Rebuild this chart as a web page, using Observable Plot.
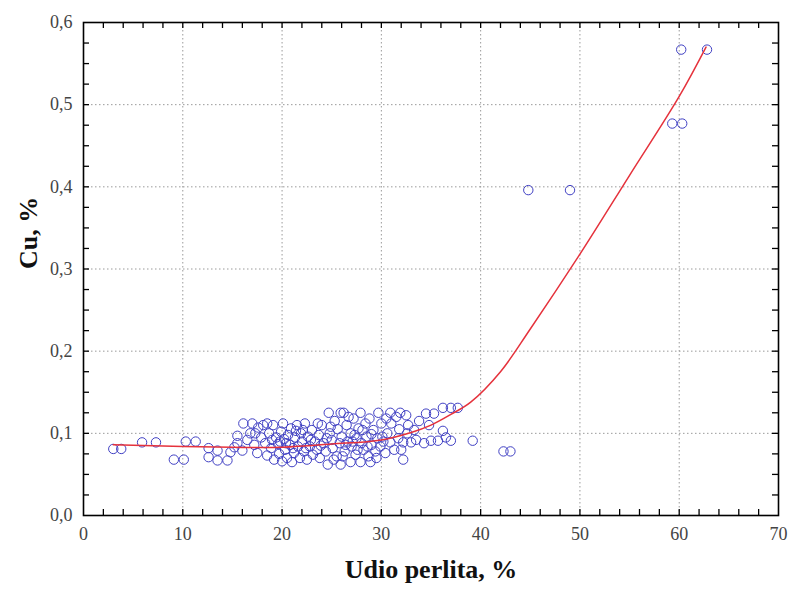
<!DOCTYPE html>
<html><head><meta charset="utf-8">
<script src="https://cdn.jsdelivr.net/npm/d3@7"></script>
<script src="https://cdn.jsdelivr.net/npm/@observablehq/plot@0.6"></script>
<style>body{margin:0;background:#fff} svg, svg text{font-family:"Liberation Serif","DejaVu Serif",serif !important}</style>
</head><body><div id="chart"></div>
<script>
// Udio perlita, % (x) and Cu, % (y) of each sample
const pearliteX = [3.0,3.8,5.9,7.3,9.1,10.1,10.3,11.3,12.6,12.6,13.5,13.5,14.5,14.8,15.5,15.5,16.1,17.0,17.6,15.2,
  16.0,16.5,16.8,17.2,17.5,17.9,18.1,18.3,18.5,18.7,18.9,19.1,19.2,19.4,19.6,19.7,19.9,20.0,20.1,20.2,
  20.3,20.5,20.6,20.8,20.9,21.0,21.2,21.3,21.5,21.6,21.8,21.9,22.0,22.2,22.3,22.5,22.6,22.8,23.0,23.1,
  23.3,23.5,23.7,23.8,24.0,24.2,24.4,24.7,24.6,24.8,25.0,25.1,25.3,25.5,25.6,25.8,25.9,25.9,26.0,26.2,
  26.3,26.5,26.6,26.9,26.9,27.0,27.2,27.4,27.5,27.7,27.9,27.9,28.0,28.2,28.4,28.5,28.7,28.9,29.0,29.2,
  29.4,29.6,29.7,29.9,30.0,30.2,30.4,30.6,30.9,31.0,30.9,31.5,31.7,31.9,32.0,32.2,32.2,32.5,32.7,33.0,
  33.3,33.8,34.3,34.5,35.0,35.3,35.7,36.2,36.2,37.0,37.0,37.7,39.2,42.3,43.0,44.8,49.0,59.3,60.3,60.2,62.8,
  19.0,20.4,21.1,22.1,22.9,23.9,24.5,25.2,26.4,27.3,28.1,28.8,29.5,30.5,31.3,23.6,24.9,26.7,27.6,29.0,
  33.5,36.5,34.8,31.8,17.3,18.5,19.8,21.4,22.4,26.1,27.1,28.6,30.1,32.6];
const copperY = [0.081,0.081,0.089,0.089,0.068,0.068,0.090,0.090,0.082,0.071,0.079,0.067,0.067,0.077,0.097,0.088,0.112,0.112,0.107,0.083,
  0.079,0.092,0.100,0.086,0.076,0.095,0.110,0.088,0.073,0.100,0.082,0.110,0.068,0.095,0.087,0.075,0.102,0.066,0.112,0.093,
  0.080,0.070,0.098,0.086,0.106,0.065,0.076,0.095,0.110,0.084,0.070,0.100,0.090,0.078,0.112,0.068,0.096,0.084,0.104,0.074,
  0.090,0.080,0.098,0.070,0.110,0.088,0.078,0.125,0.062,0.100,0.092,0.082,0.115,0.072,0.105,0.088,0.125,0.062,0.096,0.125,
  0.078,0.110,0.090,0.065,0.100,0.084,0.118,0.074,0.094,0.106,0.125,0.065,0.088,0.080,0.112,0.096,0.072,0.065,0.086,0.104,
  0.078,0.094,0.125,0.084,0.112,0.090,0.076,0.100,0.125,0.112,0.089,0.120,0.094,0.125,0.080,0.068,0.089,0.122,0.110,0.089,
  0.104,0.115,0.088,0.124,0.091,0.124,0.091,0.103,0.131,0.091,0.131,0.131,0.091,0.078,0.078,0.396,0.396,0.477,0.477,0.567,0.567,
  0.092,0.088,0.082,0.104,0.092,0.085,0.094,0.068,0.086,0.098,0.104,0.118,0.070,0.118,0.080,0.112,0.108,0.120,0.080,0.099,
  0.092,0.095,0.110,0.105,0.100,0.112,0.090,0.103,0.082,0.072,0.090,0.084,0.096,0.100];
// fitted curve
const fitX = [3,10,15,20,25,30,33,35,37,39,42,45,50,55,60,62.7];
const fitY = [0.086,0.084,0.083,0.083,0.087,0.092,0.101,0.110,0.123,0.138,0.175,0.227,0.318,0.414,0.51,0.57];
// axes
const xTicks = [0,10,20,30,40,50,60,70];
const yTicks = [0,0.1,0.2,0.3,0.4,0.5,0.6];
const xMinor = [2,4,6,8,10,12,14,16,18,20,22,24,26,28,30,32,34,36,38,40,42,44,46,48,50,52,54,56,58,60,62,64,66,68];
const yMinor = [0.025,0.05,0.075,0.1,0.125,0.15,0.175,0.2,0.225,0.25,0.275,0.3,0.325,0.35,0.375,0.4,0.425,0.45,0.475,0.5,0.525,0.55,0.575];

const points = pearliteX.map((x, i) => ({x, y: copperY[i]}));
const fit = fitX.map((x, i) => ({x, y: fitY[i]}));

const W = 790, H = 590, mL = 83, mR = 12, mT = 22, mB = 75;
const iw = W - mL - mR, ih = H - mT - mB;
const fmtY = d => d.toFixed(1).replace(".", ",");
const serif = "Liberation Serif";

const chart = Plot.plot({
  width: W, height: H,
  marginLeft: mL, marginRight: mR, marginTop: mT, marginBottom: mB,
  style: {fontFamily: serif, background: "#fff"},
  x: {domain: [0, 70]},
  y: {domain: [0, 0.6]},
  marks: [
    Plot.gridX(xTicks.slice(1, -1), {stroke: "#9a9a9a", strokeOpacity: 1, strokeDasharray: "1.5,2.5"}),
    Plot.gridY(yTicks.slice(1, -1), {stroke: "#9a9a9a", strokeOpacity: 1, strokeDasharray: "1.5,2.5"}),
    Plot.tickX(xMinor, {x: d => d, insetTop: ih - 6, stroke: "#000", strokeWidth: 1.3}),
    Plot.tickX(xMinor, {x: d => d, insetBottom: ih - 6, stroke: "#000", strokeWidth: 1.3}),
    Plot.tickY(yMinor, {y: d => d, insetRight: iw - 6, stroke: "#000", strokeWidth: 1.3}),
    Plot.tickY(yMinor, {y: d => d, insetLeft: iw - 6, stroke: "#000", strokeWidth: 1.3}),
    Plot.dot(points, {x: "x", y: "y", r: 4.7, stroke: "#4141c4", strokeWidth: 1, fill: "none"}),
    Plot.line(fit, {x: "x", y: "y", curve: "catmull-rom", stroke: "#e5323c", strokeWidth: 1.5}),
    Plot.frame({stroke: "#000", strokeWidth: 1.6}),
    Plot.axisX(xTicks, {tickSize: 0, tickPadding: 12, fontSize: 18, fontFamily: serif, fill: "#444", label: null}),
    Plot.axisY(yTicks, {tickSize: 0, tickPadding: 11, fontSize: 18, fontFamily: serif, fill: "#444", tickFormat: fmtY, label: null}),
    Plot.text(["Udio perlita, %"], {frameAnchor: "bottom", dy: 62, fontSize: 26, fontFamily: serif, fontWeight: "bold", fill: "#111"}),
    Plot.text(["Cu, %"], {frameAnchor: "left", dx: -55, rotate: -90, fontSize: 26, fontFamily: serif, fontWeight: "bold", fill: "#111"})
  ]
});
document.getElementById("chart").appendChild(chart);
</script>
</body></html>
